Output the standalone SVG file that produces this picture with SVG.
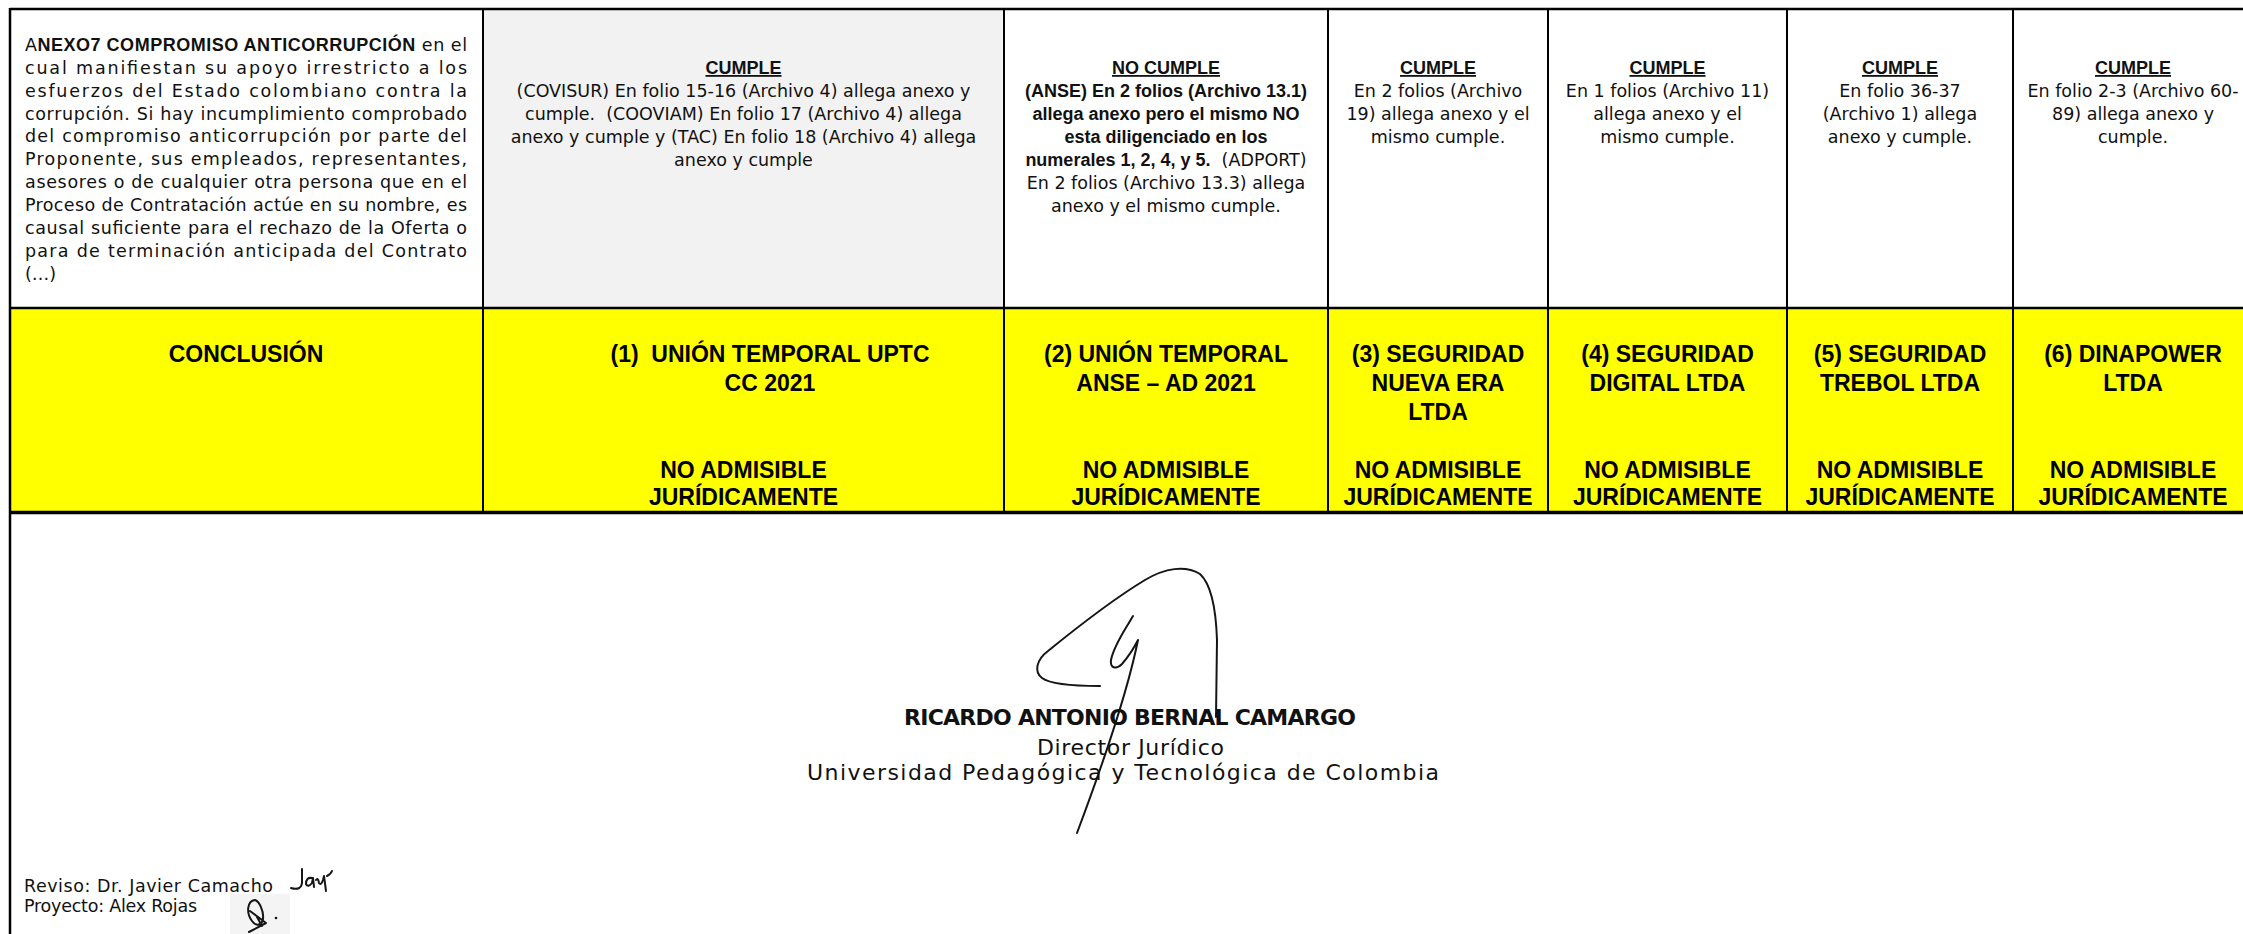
<svg xmlns="http://www.w3.org/2000/svg" width="2243" height="934" viewBox="0 0 2243 934">
<style>
.r{font-family:"DejaVu Sans","Noto Sans",sans-serif;font-size:17.5px;fill:#111}
.b{font-family:"Liberation Sans",Arial,sans-serif;font-weight:bold;font-size:18px;fill:#111}
.y{font-family:"Liberation Sans",Arial,sans-serif;font-weight:bold;font-size:23px;fill:#000;text-anchor:middle}
.c{text-anchor:middle}
.u{text-decoration:underline}
.sg{font-family:"DejaVu Sans","Noto Sans",sans-serif;font-size:22px;fill:#111}
.ln{stroke:#000;fill:none}
.ink{fill:none;stroke:#151515;stroke-width:2;stroke-linecap:round;stroke-linejoin:round}
</style>
<rect x="0" y="0" width="2243" height="934" fill="#fff"/>

<g id="backgrounds">
<rect x="483" y="9" width="521" height="299" fill="#f2f2f2"/>
<rect x="10" y="308" width="2243" height="204" fill="#ffff00"/>
</g>

<g id="connectors">
<line class="ln" x1="10" y1="9" x2="2253" y2="9" stroke-width="2.5"/>
<line class="ln" x1="10" y1="308" x2="2253" y2="308" stroke-width="2.5"/>
<line class="ln" x1="10" y1="512.5" x2="2253" y2="512.5" stroke-width="3.5"/>
<line class="ln" x1="10" y1="8" x2="10" y2="940" stroke-width="2.5"/>
<line class="ln" x1="483" y1="9" x2="483" y2="512" stroke-width="2"/>
<line class="ln" x1="1004" y1="9" x2="1004" y2="512" stroke-width="2"/>
<line class="ln" x1="1328" y1="9" x2="1328" y2="512" stroke-width="2"/>
<line class="ln" x1="1548" y1="9" x2="1548" y2="512" stroke-width="2"/>
<line class="ln" x1="1787" y1="9" x2="1787" y2="512" stroke-width="2"/>
<line class="ln" x1="2013" y1="9" x2="2013" y2="512" stroke-width="2"/>
</g>

<g id="criterio">
<text class="r" x="25" y="50.7" textLength="442" lengthAdjust="spacing">A<tspan class="b">NEXO7 COMPROMISO ANTICORRUPCIÓN</tspan> en el</text>
<text class="r" x="25" y="73.6" textLength="442" lengthAdjust="spacing">cual manifiestan su apoyo irrestricto a los</text>
<text class="r" x="25" y="96.5" textLength="442" lengthAdjust="spacing">esfuerzos del Estado colombiano contra la</text>
<text class="r" x="25" y="119.5" textLength="442" lengthAdjust="spacing">corrupción. Si hay incumplimiento comprobado</text>
<text class="r" x="25" y="142.4" textLength="442" lengthAdjust="spacing">del compromiso anticorrupción por parte del</text>
<text class="r" x="25" y="165.3" textLength="442" lengthAdjust="spacing">Proponente, sus empleados, representantes,</text>
<text class="r" x="25" y="188.3" textLength="442" lengthAdjust="spacing">asesores o de cualquier otra persona que en el</text>
<text class="r" x="25" y="211.2" textLength="442" lengthAdjust="spacing">Proceso de Contratación actúe en su nombre, es</text>
<text class="r" x="25" y="234.1" textLength="442" lengthAdjust="spacing">causal suficiente para el rechazo de la Oferta o</text>
<text class="r" x="25" y="257.1" textLength="442" lengthAdjust="spacing">para de terminación anticipada del Contrato</text>
<text class="r" x="25" y="280">(…)</text>
</g>

<g id="p1-eval">
<text class="b c u" x="743.5" y="74">CUMPLE</text>
<text class="r c" x="743.5" y="97">(COVISUR) En folio 15-16 (Archivo 4) allega anexo y</text>
<text class="r c" x="743.5" y="120">cumple. &#160;(COOVIAM) En folio 17 (Archivo 4) allega</text>
<text class="r c" x="743.5" y="143">anexo y cumple y (TAC) En folio 18 (Archivo 4) allega</text>
<text class="r c" x="743.5" y="166">anexo y cumple</text>
</g>

<g id="p2-eval">
<text class="b c u" x="1166" y="74">NO CUMPLE</text>
<text class="b c" x="1166" y="97">(ANSE) En 2 folios (Archivo 13.1)</text>
<text class="b c" x="1166" y="120">allega anexo pero el mismo NO</text>
<text class="b c" x="1166" y="143">esta diligenciado en los</text>
<text class="r c" x="1166" y="166"><tspan class="b">numerales 1, 2, 4, y 5.</tspan> &#160;(ADPORT)</text>
<text class="r c" x="1166" y="189">En 2 folios (Archivo 13.3) allega</text>
<text class="r c" x="1166" y="212">anexo y el mismo cumple.</text>
</g>

<g id="p3-eval">
<text class="b c u" x="1438" y="74">CUMPLE</text>
<text class="r c" x="1438" y="97">En 2 folios (Archivo</text>
<text class="r c" x="1438" y="120">19) allega anexo y el</text>
<text class="r c" x="1438" y="143">mismo cumple.</text>
</g>

<g id="p4-eval">
<text class="b c u" x="1667.5" y="74">CUMPLE</text>
<text class="r c" x="1667.5" y="97">En 1 folios (Archivo 11)</text>
<text class="r c" x="1667.5" y="120">allega anexo y el</text>
<text class="r c" x="1667.5" y="143">mismo cumple.</text>
</g>

<g id="p5-eval">
<text class="b c u" x="1900" y="74">CUMPLE</text>
<text class="r c" x="1900" y="97">En folio 36-37</text>
<text class="r c" x="1900" y="120">(Archivo 1) allega</text>
<text class="r c" x="1900" y="143">anexo y cumple.</text>
</g>

<g id="p6-eval">
<text class="b c u" x="2133" y="74">CUMPLE</text>
<text class="r c" x="2133" y="97">En folio 2-3 (Archivo 60-</text>
<text class="r c" x="2133" y="120">89) allega anexo y</text>
<text class="r c" x="2133" y="143">cumple.</text>
</g>

<g id="conclusion">
<text class="y" x="246" y="362">CONCLUSIÓN</text>
</g>

<g id="p1-conclusion">
<text class="y" x="770" y="362">(1)&#160; UNIÓN TEMPORAL UPTC</text>
<text class="y" x="770" y="391">CC 2021</text>
<text class="y" x="743.5" y="478">NO ADMISIBLE</text>
<text class="y" x="743.5" y="505">JURÍDICAMENTE</text>
</g>

<g id="p2-conclusion">
<text class="y" x="1166" y="362">(2) UNIÓN TEMPORAL</text>
<text class="y" x="1166" y="391">ANSE – AD 2021</text>
<text class="y" x="1166" y="478">NO ADMISIBLE</text>
<text class="y" x="1166" y="505">JURÍDICAMENTE</text>
</g>

<g id="p3-conclusion">
<text class="y" x="1438" y="362">(3) SEGURIDAD</text>
<text class="y" x="1438" y="391">NUEVA ERA</text>
<text class="y" x="1438" y="420">LTDA</text>
<text class="y" x="1438" y="478">NO ADMISIBLE</text>
<text class="y" x="1438" y="505">JURÍDICAMENTE</text>
</g>

<g id="p4-conclusion">
<text class="y" x="1667.5" y="362">(4) SEGURIDAD</text>
<text class="y" x="1667.5" y="391">DIGITAL LTDA</text>
<text class="y" x="1667.5" y="478">NO ADMISIBLE</text>
<text class="y" x="1667.5" y="505">JURÍDICAMENTE</text>
</g>

<g id="p5-conclusion">
<text class="y" x="1900" y="362">(5) SEGURIDAD</text>
<text class="y" x="1900" y="391">TREBOL LTDA</text>
<text class="y" x="1900" y="478">NO ADMISIBLE</text>
<text class="y" x="1900" y="505">JURÍDICAMENTE</text>
</g>

<g id="p6-conclusion">
<text class="y" x="2133" y="362">(6) DINAPOWER</text>
<text class="y" x="2133" y="391">LTDA</text>
<text class="y" x="2133" y="478">NO ADMISIBLE</text>
<text class="y" x="2133" y="505">JURÍDICAMENTE</text>
</g>

<g id="firma">
<path class="ink" d="M1100,686 C1075,686 1050,684 1042,678 C1034,672 1036,660 1048,651 C1080,625 1115,598 1145,580 C1165,568 1185,565 1200,574 C1212,585 1216,610 1217,640 L1216,717"/>
<path class="ink" d="M1133,616 C1125,630 1114,645 1111,660 C1110,668 1116,670 1122,664 C1128,657 1134,648 1138,640 Q1125,705 1077,833"/>
<text class="sg" x="904" y="725" font-weight="bold" font-size="21" textLength="452" lengthAdjust="spacing">RICARDO ANTONIO BERNAL CAMARGO</text>
<text class="sg" x="1037" y="755" textLength="187" lengthAdjust="spacing">Director Jurídico</text>
<text class="sg" x="807" y="780" textLength="632" lengthAdjust="spacing">Universidad Pedagógica y Tecnológica de Colombia</text>
</g>

<g id="revision">
<rect x="230" y="894" width="60" height="40" fill="#f4f4f4"/>
<text class="r" x="24" y="892" textLength="249" lengthAdjust="spacing">Reviso: Dr. Javier Camacho</text>
<text class="r" x="24" y="912" textLength="173" lengthAdjust="spacing">Proyecto: Alex Rojas</text>
<path class="ink" stroke-width="1.4" d="M291,888 Q301,891 302,883 L302,869 M312,878 Q306,877 306,884 Q308,888 312,883 L313,878 L314,887 M316,880 Q318,877 319,883 Q321,886 323,880 L324,876 M324,876 L326,891 M327,876 Q331,874 332,871"/>
<path class="ink" stroke-width="1.6" d="M255,900 C247,901 246,913 252,921 C256,927 262,925 263,919 C264,911 259,901 255,900 M250,911 L266,923 L249,932 M257,917 L262,926"/>
<circle cx="276" cy="918" r="1.3" fill="#111"/>
</g>
</svg>
